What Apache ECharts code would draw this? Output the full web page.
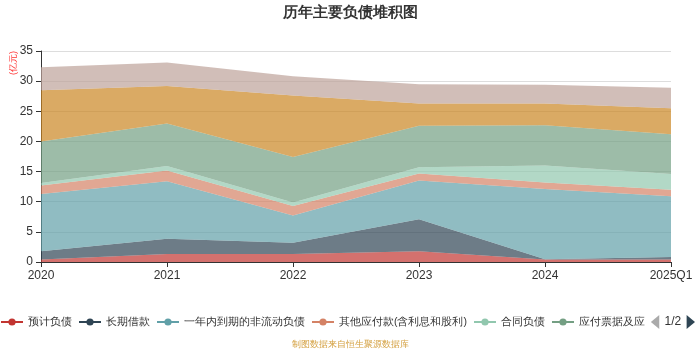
<!DOCTYPE html>
<html><head><meta charset="utf-8">
<script src="https://cdn.jsdelivr.net/npm/echarts@6/dist/echarts.min.js"></script>
<style>html,body{margin:0;padding:0;background:#fff}#c{width:700px;height:350px}</style>
</head><body><div id="c"></div>
<script>
var categories = ['2020','2021','2022','2023','2024','2025Q1'];
var seriesNames = ['预计负债','长期借款','一年内到期的非流动负债','其他应付款(含利息和股利)','合同负债','应付票据及应付账款','短期借款','应付职工薪酬'];
var s1 = [0.4, 1.34, 1.34, 1.8, 0.4, 0.4];
var s2 = [1.4, 2.5, 1.86, 5.3, 0.05, 0.44];
var s3 = [9.5, 9.55, 4.5, 6.4, 11.65, 10.06];
var s4 = [1.4, 1.8, 1.6, 1.2, 1.1, 1.1];
var s5 = [0.4, 0.75, 0.57, 1.0, 2.8, 2.6];
var s6 = [6.9, 7.05, 7.53, 6.9, 6.7, 6.6];
var s7 = [8.5, 6.2, 10.2, 3.7, 3.6, 4.3];
var s8 = [3.8, 3.9, 3.2, 3.2, 3.1, 3.4];
var yTicks = [0, 5, 10, 15, 20, 25, 30, 35];
var colors = ['#c23531','#2f4554','#61a0a8','#d48265','#91c7ae','#749f83','#ca8622','#bda29a'];
var values = [s1, s2, s3, s4, s5, s6, s7, s8];

var chart = echarts.init(document.getElementById('c'));
chart.setOption({
  color: colors,
  animation: false,
  title: {
    text: '历年主要负债堆积图', left: 'center', top: 0,
    textStyle: {fontSize: 15, fontWeight: 'bold', color: '#333'}
  },
  legend: {
    type: 'scroll', left: -5, right: -16, bottom: 16,
    itemWidth: 22, itemHeight: 9, itemGap: 6,
    lineStyle: {width: 2},
    textStyle: {fontSize: 10.5, color: '#333'},
    pageIconSize: [9, 14], pageButtonItemGap: 0,
    pageTextStyle: {fontSize: 12, color: '#333'},
    pageIconColor: '#2f4554', pageIconInactiveColor: '#aaa'
  },
  graphic: [{
    type: 'text', left: 'center', top: 340,
    style: {text: '制图数据来自恒生聚源数据库', fontSize: 9, fill: '#d4a040'}
  }, {
    type: 'text', x: 9, y: 75, rotation: Math.PI / 2,
    style: {text: '(亿元)', fontSize: 9, fill: '#f33'}
  }],
  grid: {left: 41, right: 29, top: 51, bottom: 88},
  xAxis: {
    type: 'category', data: categories, boundaryGap: false,
    axisLine: {lineStyle: {color: '#333'}},
    axisTick: {lineStyle: {color: '#333'}},
    axisLabel: {color: '#333', fontSize: 12}
  },
  yAxis: {
    type: 'value', min: yTicks[0], max: yTicks[yTicks.length-1], interval: 5,
    axisLine: {show: true, lineStyle: {color: '#333'}},
    axisTick: {show: true, lineStyle: {color: '#333'}},
    axisLabel: {color: '#333', fontSize: 12},
    splitLine: {lineStyle: {color: '#ddd'}}
  },
  series: seriesNames.map(function(n, i){
    return {
      name: n, type: 'line', stack: 'total', data: values[i],
      symbol: 'circle', symbolSize: 8, showSymbol: false,
      lineStyle: {width: 0},
      areaStyle: {opacity: 0.7}
    };
  })
});
</script></body></html>
